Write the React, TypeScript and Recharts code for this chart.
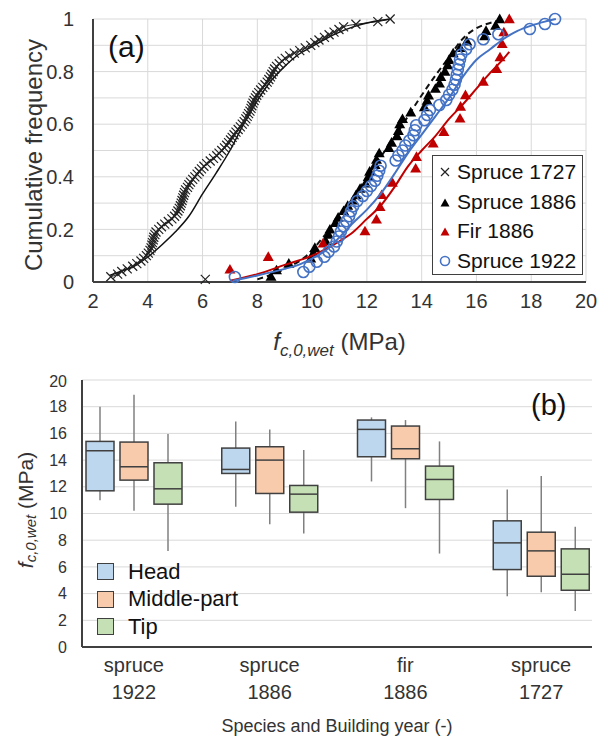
import React from "react";
import {
  ScatterChart,
  Scatter,
  BarChart,
  Bar,
  XAxis,
  YAxis,
  CartesianGrid,
  Legend,
  Label,
} from "recharts";

const FONT = '"Liberation Sans", Arial, sans-serif';
const TXT = "#333";
const GRID = "#d9d9d9";
const FRAME = "#404040";

// ---------- (a) cumulative frequency: [strength MPa, F] ----------
const spruce1727: [number, number][] = [
  [6.1, 0.01], [2.65, 0.02], [2.9, 0.03], [3.05, 0.04], [3.25, 0.05], [3.45, 0.06], [3.6, 0.07],
  [3.75, 0.08], [3.85, 0.09], [3.95, 0.1], [4.02, 0.11], [4.08, 0.12], [4.12, 0.13], [4.15, 0.14],
  [4.17, 0.15], [4.2, 0.16], [4.22, 0.17], [4.26, 0.18], [4.3, 0.19], [4.4, 0.2], [4.5, 0.21],
  [4.62, 0.22], [4.75, 0.23], [4.88, 0.24], [4.98, 0.25], [5.05, 0.26], [5.1, 0.27], [5.15, 0.28],
  [5.19, 0.29], [5.22, 0.3], [5.25, 0.31], [5.28, 0.32], [5.31, 0.33], [5.34, 0.34], [5.38, 0.35],
  [5.45, 0.36], [5.5, 0.37], [5.56, 0.38], [5.64, 0.39], [5.72, 0.4], [5.8, 0.41], [5.88, 0.42],
  [5.96, 0.43], [6.05, 0.44], [6.15, 0.45], [6.28, 0.46], [6.4, 0.47], [6.52, 0.48], [6.6, 0.49],
  [6.7, 0.5], [6.8, 0.51], [6.88, 0.52], [6.95, 0.53], [7.02, 0.54], [7.08, 0.55], [7.15, 0.56],
  [7.22, 0.57], [7.3, 0.58], [7.38, 0.59], [7.45, 0.6], [7.52, 0.61], [7.58, 0.62], [7.63, 0.63],
  [7.68, 0.64], [7.73, 0.65], [7.77, 0.66], [7.8, 0.67], [7.84, 0.68], [7.88, 0.69], [7.93, 0.7],
  [7.98, 0.71], [8.05, 0.72], [8.12, 0.73], [8.2, 0.74], [8.28, 0.75], [8.36, 0.76], [8.42, 0.77],
  [8.48, 0.78], [8.53, 0.79], [8.58, 0.8], [8.63, 0.81], [8.7, 0.82], [8.8, 0.83], [8.9, 0.84],
  [9.02, 0.85], [9.18, 0.86], [9.35, 0.87], [9.55, 0.88], [9.75, 0.89], [9.95, 0.9], [10.1, 0.91],
  [10.25, 0.92], [10.45, 0.93], [10.62, 0.94], [10.8, 0.95], [10.98, 0.96], [11.15, 0.97],
  [11.6, 0.98], [12.4, 0.99], [12.85, 1.0],
];
const spruce1886: [number, number][] = [
  [8.5, 0.02], [8.7, 0.045], [9.15, 0.07], [9.95, 0.09], [10.05, 0.11], [10.1, 0.13], [10.5, 0.155],
  [10.6, 0.18], [10.65, 0.2], [10.85, 0.225], [10.95, 0.245], [11.15, 0.27], [11.3, 0.29], [11.5, 0.31],
  [11.6, 0.33], [11.75, 0.355], [11.95, 0.375], [12.05, 0.4], [12.1, 0.42], [12.3, 0.445], [12.35, 0.465],
  [12.45, 0.49], [12.8, 0.51], [12.9, 0.53], [13.1, 0.555], [13.15, 0.575], [13.2, 0.6], [13.3, 0.62],
  [13.6, 0.645], [14.1, 0.665], [14.2, 0.69], [14.25, 0.71], [14.5, 0.735], [14.65, 0.755], [14.7, 0.78],
  [14.85, 0.8], [14.95, 0.825], [15.0, 0.845], [15.15, 0.87], [15.4, 0.89], [15.65, 0.915], [16.3, 0.935],
  [16.35, 0.955], [16.7, 0.975], [16.85, 1.0],
];
const fir1886: [number, number][] = [
  [7.0, 0.048], [8.4, 0.096], [10.4, 0.147], [11.93, 0.193], [12.35, 0.238], [12.48, 0.286],
  [12.54, 0.331], [12.93, 0.378], [13.78, 0.432], [13.81, 0.476], [14.42, 0.527], [14.81, 0.571],
  [15.4, 0.622], [15.42, 0.667], [15.6, 0.711], [16.25, 0.762], [16.74, 0.81], [16.86, 0.855],
  [16.94, 0.905], [17.0, 0.95], [17.2, 1.0],
];
const spruce1922: [number, number][] = [
  [7.18, 0.019], [9.68, 0.038], [9.9, 0.058], [10.17, 0.077], [10.45, 0.096], [10.6, 0.115],
  [10.8, 0.135], [10.9, 0.154], [10.98, 0.173], [11.05, 0.192], [11.15, 0.212], [11.25, 0.231],
  [11.35, 0.25], [11.42, 0.269], [11.5, 0.288], [11.65, 0.308], [11.85, 0.327], [12.0, 0.346],
  [12.15, 0.365], [12.3, 0.385], [12.38, 0.404], [12.45, 0.423], [12.5, 0.442], [13.05, 0.462],
  [13.15, 0.481], [13.3, 0.5], [13.4, 0.519], [13.55, 0.538], [13.7, 0.558], [13.75, 0.577],
  [13.8, 0.596], [14.1, 0.615], [14.2, 0.635], [14.3, 0.654], [14.65, 0.673], [14.9, 0.692],
  [15.0, 0.712], [15.12, 0.731], [15.2, 0.75], [15.25, 0.769], [15.28, 0.788], [15.32, 0.808],
  [15.36, 0.827], [15.4, 0.846], [15.45, 0.865], [15.62, 0.885], [15.75, 0.904], [16.25, 0.923],
  [16.8, 0.942], [17.95, 0.962], [18.5, 0.981], [18.87, 1.0],
];

// fitted curves
const fit1727: [number, number][] = [
  [2.6, 0.025], [3.0, 0.04], [3.5, 0.06], [4.0, 0.095], [4.5, 0.14], [5.0, 0.19], [5.5, 0.25],
  [6.0, 0.335], [6.5, 0.415], [7.0, 0.5], [7.5, 0.6], [8.0, 0.69], [8.5, 0.765], [9.0, 0.82],
  [9.5, 0.865], [10.0, 0.895], [10.5, 0.925], [11.0, 0.95], [11.5, 0.97], [12.0, 0.985],
  [12.5, 0.995], [12.9, 1.0],
];
const fit1886: [number, number][] = [
  [8.0, 0.01], [9.0, 0.05], [9.8, 0.1], [10.4, 0.17], [11.0, 0.25], [11.5, 0.32], [12.0, 0.4],
  [12.5, 0.475], [13.0, 0.55], [13.5, 0.63], [14.0, 0.71], [14.5, 0.785], [15.0, 0.855],
  [15.5, 0.925], [16.0, 0.965], [16.5, 0.985], [17.0, 0.995],
];
const fitFir: [number, number][] = [
  [7.0, 0.005], [8.0, 0.03], [9.0, 0.065], [10.0, 0.1], [10.5, 0.125], [11.0, 0.155], [11.5, 0.19],
  [12.0, 0.24], [12.5, 0.29], [13.0, 0.36], [13.5, 0.44], [14.0, 0.5], [14.5, 0.555], [15.0, 0.62],
  [15.5, 0.675], [16.0, 0.735], [16.5, 0.795], [17.0, 0.85], [17.2, 0.875],
];
const fit1922: [number, number][] = [
  [7.1, 0.005], [8.0, 0.025], [9.0, 0.05], [9.5, 0.065], [10.0, 0.09], [10.5, 0.12], [11.0, 0.17],
  [11.5, 0.225], [12.0, 0.275], [12.5, 0.335], [13.0, 0.41], [13.5, 0.49], [14.0, 0.56], [14.5, 0.63],
  [15.0, 0.7], [15.5, 0.78], [16.0, 0.845], [16.5, 0.885], [17.0, 0.925], [17.5, 0.955], [18.0, 0.975],
  [18.5, 0.99], [18.9, 1.0],
];

const xTicksA = [2, 4, 6, 8, 10, 12, 14, 16, 18, 20];
const yTicksA = [0, 0.1, 0.2, 0.3, 0.4, 0.5, 0.6, 0.7, 0.8, 0.9, 1];

// ---------- (b) box plots: [min, q1, median, q3, max] ----------
const species = ["spruce", "spruce", "fir", "spruce"];
const years = ["1922", "1886", "1886", "1727"];
const headBox = [
  [11.0, 11.7, 14.7, 15.4, 18.0],
  [10.5, 13.0, 13.3, 14.9, 16.9],
  [12.4, 14.25, 16.3, 17.0, 17.2],
  [3.8, 5.8, 7.8, 9.45, 11.8],
];
const midBox = [
  [10.2, 12.5, 13.5, 15.35, 18.9],
  [9.2, 11.5, 14.0, 15.0, 16.3],
  [10.4, 14.1, 14.85, 16.55, 17.0],
  [4.1, 5.3, 7.2, 8.6, 12.8],
];
const tipBox = [
  [7.2, 10.7, 11.85, 13.8, 15.95],
  [8.5, 10.1, 11.45, 12.1, 14.75],
  [7.0, 11.05, 12.55, 13.55, 15.4],
  [2.7, 4.25, 5.45, 7.35, 9.0],
];
const yTicksB = [0, 2, 4, 6, 8, 10, 12, 14, 16, 18, 20];

const toPts = (arr: [number, number][]) => arr.map(([x, y]) => ({ x, y }));

const boxData = species.map((s, i) => ({
  cat: `${s} ${years[i]}`,
  head: headBox[i],
  mid: midBox[i],
  tip: tipBox[i],
}));

// ---------- markers ----------
const Cross = ({ cx, cy, s = 4.5 }: any) => (
  <path
    d={`M${cx - s},${cy - s}L${cx + s},${cy + s}M${cx - s},${cy + s}L${cx + s},${cy - s}`}
    stroke="#222"
    strokeWidth={1.2}
    fill="none"
  />
);
const Tri = ({ cx, cy, fill, s = 5.5 }: any) => (
  <path d={`M${cx},${cy - s}L${cx + s},${cy + s * 0.75}L${cx - s},${cy + s * 0.75}Z`} fill={fill} />
);
const Ring = ({ cx, cy, r = 5.5 }: any) => (
  <circle cx={cx} cy={cy} r={r} fill="none" stroke="#4472C4" strokeWidth={1.6} />
);
const NoDot = () => <g />;

const legendA = [
  { name: "Spruce 1727", mark: <Cross cx={12} cy={12} s={4} /> },
  { name: "Spruce 1886", mark: <Tri cx={12} cy={13} fill="#000" s={4.5} /> },
  { name: "Fir 1886", mark: <Tri cx={12} cy={13} fill="#C00000" s={4.5} /> },
  { name: "Spruce 1922", mark: <Ring cx={12} cy={12} r={4.5} /> },
];

const renderLegendA = () => (
  <div
    style={{
      width: 151,
      height: 120,
      boxSizing: "border-box",
      border: `1.5px solid ${FRAME}`,
      background: "#fff",
      fontFamily: FONT,
      fontSize: 21,
      color: "#111",
      paddingTop: 1,
    }}
  >
    {legendA.map((it) => (
      <div key={it.name} style={{ display: "flex", alignItems: "center", height: 29.7 }}>
        <svg width={24} height={24} style={{ flex: "none" }}>
          {it.mark}
        </svg>
        <span>{it.name}</span>
      </div>
    ))}
  </div>
);

const legendB = [
  { name: "Head", fill: "#BDD7EE" },
  { name: "Middle-part", fill: "#F8CBAD" },
  { name: "Tip", fill: "#C5E0B4" },
];

const renderLegendB = () => (
  <div style={{ fontFamily: FONT, fontSize: 22, color: "#111" }}>
    {legendB.map((it) => (
      <div key={it.name} style={{ display: "flex", alignItems: "center", height: 27.5 }}>
        <div
          style={{
            width: 17,
            height: 17,
            boxSizing: "border-box",
            background: it.fill,
            border: `1.5px solid ${FRAME}`,
            marginRight: 14,
          }}
        />
        <span>{it.name}</span>
      </div>
    ))}
  </div>
);

const boxShape = (fill: string, key: "head" | "mid" | "tip") => (props: any) => {
  const { x, y, width, height, payload } = props;
  const [mn, q1, md, q3, mx] = payload[key];
  const top = Math.min(y, y + height);
  const bot = Math.max(y, y + height);
  const py = (v: number) => bot - ((v - mn) / (mx - mn)) * (bot - top);
  const cx = x + width / 2;
  return (
    <g>
      <line x1={cx} x2={cx} y1={py(mx)} y2={py(mn)} stroke="#808080" strokeWidth={1.5} />
      <rect x={x} y={py(q3)} width={width} height={py(q1) - py(q3)} fill={fill} stroke={FRAME} strokeWidth={1.5} />
      <line x1={x} x2={x + width} y1={py(md)} y2={py(md)} stroke={FRAME} strokeWidth={1.5} />
    </g>
  );
};

const CatTick = ({ x, y, payload }: any) => {
  const [s, yr] = String(payload.value).split(" ");
  return (
    <text x={x} y={y} textAnchor="middle" fill={TXT} fontSize={20}>
      <tspan x={x} dy={25}>{s}</tspan>
      <tspan x={x} dy={27}>{yr}</tspan>
    </text>
  );
};

const fTitle = (sub: number, shift: number) => (
  <>
    <tspan fontStyle="italic">f</tspan>
    <tspan fontStyle="italic" fontSize={sub} dy={shift}>c,0,wet</tspan>
    <tspan dy={-shift}> (MPa)</tspan>
  </>
);

export default function App() {
  return (
    <div
      style={{
        position: "absolute",
        left: 0,
        top: 0,
        width: 604,
        height: 738,
        background: "#fff",
        fontFamily: FONT,
      }}
    >
      {/* (a) */}
      <div style={{ position: "absolute", left: 0, top: 0 }}>
        <ScatterChart width={604} height={372} margin={{ top: 19, right: 18, bottom: 0, left: 0 }}>
          <CartesianGrid stroke={GRID} />
          <XAxis
            type="number"
            dataKey="x"
            domain={[2, 20]}
            ticks={xTicksA}
            height={90}
            tickLine={false}
            tickSize={0}
            tickMargin={12}
            axisLine={{ stroke: FRAME, strokeWidth: 2 }}
            tick={{ fontSize: 20, fill: TXT }}
          >
            <Label
              content={({ viewBox }: any) => (
                <text
                  x={viewBox.x + viewBox.width / 2}
                  y={viewBox.y + 68}
                  textAnchor="middle"
                  fontSize={24}
                  fill={TXT}
                >
                  {fTitle(17, 6)}
                </text>
              )}
            />
          </XAxis>
          <XAxis xAxisId="top" orientation="top" type="number" domain={[2, 20]} height={0} tick={false} tickLine={false} axisLine={{ stroke: FRAME, strokeWidth: 2 }} />
          <YAxis
            type="number"
            dataKey="y"
            domain={[0, 1]}
            ticks={yTicksA}
            width={93}
            tickLine={false}
            tickSize={0}
            tickMargin={19}
            axisLine={{ stroke: FRAME, strokeWidth: 2 }}
            tick={{ fontSize: 20, fill: TXT }}
          >
            <Label
              content={() => (
                <text x={33} y={155} transform="rotate(-90 33 155)" textAnchor="middle" dominantBaseline="central" fontSize={24} fill={TXT}>
                  Cumulative frequency
                </text>
              )}
            />
          </YAxis>
          <YAxis yAxisId="right" orientation="right" type="number" domain={[0, 1]} width={0} tick={false} tickLine={false} axisLine={{ stroke: FRAME, strokeWidth: 2 }} />

          <Scatter data={toPts(spruce1727.slice(1))} line={{ stroke: "#222", strokeWidth: 1 }} lineJointType="monotoneX" shape={NoDot} isAnimationActive={false} legendType="none" />
          <Scatter data={toPts(fit1727)} line={{ stroke: "#111", strokeWidth: 1.5 }} lineJointType="monotoneX" shape={NoDot} isAnimationActive={false} legendType="none" />
          <Scatter data={toPts(spruce1727)} shape={<Cross />} isAnimationActive={false} />
          <Scatter data={toPts(fit1886)} line={{ stroke: "#111", strokeWidth: 2, strokeDasharray: "6 4" }} lineJointType="monotoneX" shape={NoDot} isAnimationActive={false} legendType="none" />
          <Scatter data={toPts(spruce1886)} shape={<Tri fill="#000" />} isAnimationActive={false} />
          <Scatter data={toPts(fitFir)} line={{ stroke: "#C00000", strokeWidth: 2 }} lineJointType="monotoneX" shape={NoDot} isAnimationActive={false} legendType="none" />
          <Scatter data={toPts(fir1886)} shape={<Tri fill="#C00000" />} isAnimationActive={false} />
          <Scatter data={toPts(spruce1922)} shape={<Ring />} isAnimationActive={false} />
          <Scatter data={toPts(fit1922)} line={{ stroke: "#4472C4", strokeWidth: 2 }} lineJointType="monotoneX" shape={NoDot} isAnimationActive={false} legendType="none" />

          <Legend
            layout="horizontal"
            verticalAlign="middle"
            align="center"
            wrapperStyle={{ left: 432, top: 155, width: 151, height: 120 }}
            content={renderLegendA}
          />
        </ScatterChart>
        <div style={{ position: "absolute", left: 108, top: 29, fontSize: 30, color: "#111", lineHeight: "36px" }}>(a)</div>
      </div>

      {/* (b) */}
      <div style={{ position: "absolute", left: 0, top: 372 }}>
        <BarChart
          width={604}
          height={366}
          data={boxData}
          margin={{ top: 8, right: 12, bottom: 0, left: 0 }}
          barSize={28}
          barGap={6}
        >
          <CartesianGrid stroke={GRID} vertical={false} />
          <XAxis
            dataKey="cat"
            height={91}
            padding={{ left: -16, right: -17 }}
            tickLine={false}
            tickSize={0}
            tickMargin={0}
            axisLine={{ stroke: FRAME, strokeWidth: 2 }}
            tick={<CatTick />}
            interval={0}
          >
            <Label
              content={({ viewBox }: any) => (
                <text x={viewBox.x + viewBox.width / 2} y={viewBox.y + 85} textAnchor="middle" fontSize={18} fill={TXT}>
                  Species and Building year (-)
                </text>
              )}
            />
          </XAxis>
          <XAxis xAxisId="top" orientation="top" dataKey="cat" height={0} tick={false} tickLine={false} axisLine={{ stroke: "#595959", strokeWidth: 1.5 }} />
          <YAxis
            type="number"
            domain={[0, 20]}
            ticks={yTicksB}
            width={82}
            tickLine={false}
            tickSize={0}
            tickMargin={15}
            axisLine={{ stroke: FRAME, strokeWidth: 2 }}
            tick={{ fontSize: 16, fill: TXT }}
          >
            <Label
              content={() => (
                <text x={25} y={138} transform="rotate(-90 25 138)" textAnchor="middle" dominantBaseline="central" fontSize={21} fill={TXT}>
                  {fTitle(15, 5)}
                </text>
              )}
            />
          </YAxis>
          <YAxis yAxisId="right" orientation="right" type="number" domain={[0, 20]} width={0} tick={false} tickLine={false} axisLine={{ stroke: "#595959", strokeWidth: 1.5 }} />

          <Bar dataKey={(d: any) => [d.head[0], d.head[4]]} shape={boxShape("#BDD7EE", "head")} isAnimationActive={false} />
          <Bar dataKey={(d: any) => [d.mid[0], d.mid[4]]} shape={boxShape("#F8CBAD", "mid")} isAnimationActive={false} />
          <Bar dataKey={(d: any) => [d.tip[0], d.tip[4]]} shape={boxShape("#C5E0B4", "tip")} isAnimationActive={false} />

          <Legend
            layout="horizontal"
            verticalAlign="middle"
            align="center"
            wrapperStyle={{ left: 97, top: 186, width: 200, height: 83 }}
            content={renderLegendB}
          />
        </BarChart>
        <div style={{ position: "absolute", left: 531, top: 16, fontSize: 29, color: "#111", lineHeight: "34px" }}>(b)</div>
      </div>
    </div>
  );
}
